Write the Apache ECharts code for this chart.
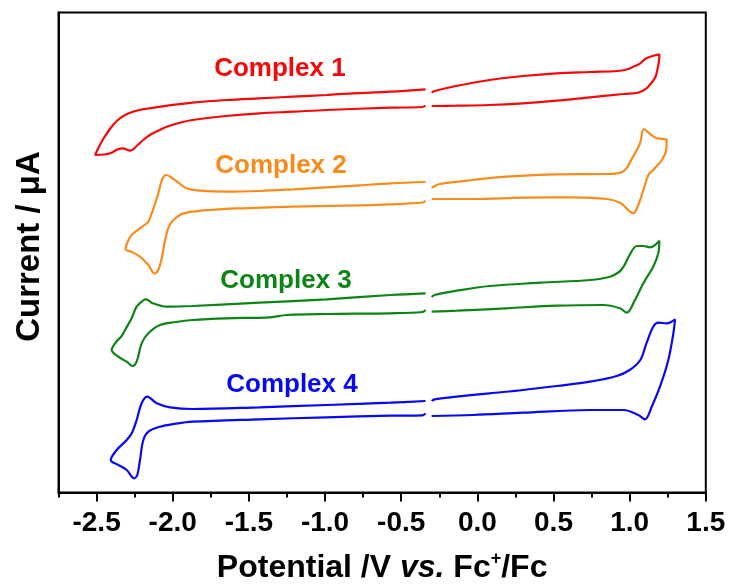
<!DOCTYPE html>
<html>
<head>
<meta charset="utf-8">
<script src="https://cdn.jsdelivr.net/npm/echarts@6/dist/echarts.min.js"></script>
<style>
  html, body { margin: 0; padding: 0; background: #ffffff; }
  #chart { width: 732px; height: 584px; }
</style>
</head>
<body>
<div id="chart"></div>
<script>
// Cyclic voltammograms of complexes 1-4 (potential in V vs. Fc+/Fc, current offset per trace)
const tickValues = [-2.5, -2.0, -1.5, -1.0, -0.5, 0.0, 0.5, 1.0, 1.5];
const minorTickValues = [-2.75, -2.25, -1.75, -1.25, -0.75, -0.25, 0.25, 0.75, 1.25];
const complexNames = ['Complex 1', 'Complex 2', 'Complex 3', 'Complex 4'];

// Each trace was recorded in two windows: negative side (left) and positive side (right)
const c1Left = [
  [-0.34, 40.32], [-0.57, 40.08], [-0.82, 39.92], [-0.99, 39.75], [-1.21, 39.58], [-1.43, 39.42],
  [-1.65, 39.25], [-1.87, 38.98], [-2.08, 38.58], [-2.22, 38.25], [-2.30, 37.85], [-2.36, 37.25],
  [-2.41, 36.40], [-2.46, 35.25], [-2.49, 34.40], [-2.51, 33.75], [-2.45, 33.80], [-2.41, 33.92],
  [-2.36, 34.32], [-2.33, 34.42], [-2.28, 34.18], [-2.23, 34.75], [-2.19, 35.30], [-2.15, 35.75],
  [-2.10, 36.15], [-2.04, 36.58], [-1.96, 36.95], [-1.87, 37.25], [-1.65, 37.65], [-1.43, 37.92],
  [-1.21, 38.08], [-0.99, 38.25], [-0.57, 38.48], [-0.36, 38.55], [-0.34, 38.68]
];
const c1Right = [
  [-0.30, 40.00], [-0.28, 40.15], [-0.14, 40.65], [0.08, 41.25], [0.30, 41.65], [0.52, 41.92],
  [0.74, 42.05], [0.92, 42.15], [0.98, 42.30], [1.03, 42.62], [1.07, 42.92], [1.11, 43.42],
  [1.195, 43.82], [1.193, 43.20], [1.185, 42.50], [1.17, 41.58], [1.14, 40.90], [1.11, 40.42],
  [1.06, 40.00], [0.96, 39.85], [0.74, 39.52], [0.52, 39.18], [0.30, 38.92], [0.08, 38.75],
  [-0.14, 38.68], [-0.30, 38.65]
];
const c2Left = [
  [-0.34, 31.05], [-0.57, 30.92], [-0.77, 30.72], [-0.99, 30.52], [-1.21, 30.32], [-1.43, 30.15],
  [-1.65, 30.08], [-1.82, 30.18], [-1.91, 30.42], [-1.97, 31.08], [-2.01, 31.50], [-2.04, 31.75],
  [-2.06, 31.58], [-2.08, 30.80], [-2.095, 29.92], [-2.13, 28.25], [-2.16, 27.08], [-2.19, 26.70],
  [-2.215, 26.42], [-2.27, 25.75], [-2.30, 24.92], [-2.31, 24.32], [-2.27, 24.08], [-2.215, 23.58],
  [-2.16, 22.75], [-2.12, 21.92], [-2.095, 22.25], [-2.07, 23.58], [-2.05, 25.25], [-2.02, 26.75],
  [-1.97, 27.58], [-1.91, 27.98], [-1.76, 28.25], [-1.54, 28.42], [-1.21, 28.58], [-0.88, 28.68],
  [-0.57, 28.82], [-0.36, 29.00], [-0.34, 29.18]
];
const c2Right = [
  [-0.30, 30.45], [-0.28, 30.65], [-0.245, 30.85], [-0.03, 31.25], [0.19, 31.58], [0.52, 31.82],
  [0.85, 31.85], [0.94, 31.98], [0.98, 32.42], [1.01, 33.25], [1.047, 34.25], [1.068, 34.92],
  [1.094, 36.35], [1.134, 35.85], [1.178, 35.42], [1.243, 35.25], [1.24, 34.25], [1.211, 33.25],
  [1.155, 32.25], [1.123, 31.75], [1.09, 30.25], [1.057, 28.75], [1.024, 27.92], [0.991, 28.25],
  [0.937, 28.98], [0.85, 29.35], [0.63, 29.52], [0.30, 29.48], [-0.03, 29.35], [-0.30, 29.35]
];
const c3Left = [
  [-0.34, 19.92], [-0.57, 19.75], [-0.99, 19.32], [-1.43, 18.98], [-1.87, 18.65], [-2.04, 18.58],
  [-2.13, 18.92], [-2.175, 19.32], [-2.195, 19.20], [-2.237, 18.58], [-2.269, 17.45], [-2.313, 16.25],
  [-2.335, 15.65], [-2.372, 15.05], [-2.401, 14.25], [-2.357, 13.58], [-2.302, 13.08], [-2.263, 12.65],
  [-2.237, 13.08], [-2.204, 14.92], [-2.16, 15.92], [-2.084, 16.75], [-1.98, 17.05], [-1.87, 17.25],
  [-1.65, 17.42], [-1.361, 17.52], [-1.252, 17.75], [-0.99, 17.85], [-0.57, 17.92], [-0.36, 18.05],
  [-0.34, 18.25]
];
const c3Right = [
  [-0.30, 19.55], [-0.28, 19.75], [-0.135, 20.18], [0.08, 20.65], [0.412, 20.98], [0.74, 21.25],
  [0.871, 21.58], [0.93, 22.05], [0.96, 22.58], [1.00, 23.75], [1.047, 24.65], [1.09, 24.65],
  [1.134, 24.52], [1.195, 25.18], [1.188, 23.92], [1.155, 22.58], [1.09, 20.92], [1.035, 19.25],
  [0.981, 17.98], [0.937, 18.42], [0.827, 18.75], [0.52, 18.68], [0.19, 18.42], [-0.135, 18.18],
  [-0.30, 18.08]
];
const c4Left = [
  [-0.34, 9.15], [-0.57, 8.98], [-0.99, 8.75], [-1.43, 8.52], [-1.87, 8.35], [-2.018, 8.52],
  [-2.105, 8.92], [-2.167, 9.58], [-2.204, 8.92], [-2.237, 7.25], [-2.269, 5.92], [-2.302, 5.25],
  [-2.368, 4.25], [-2.407, 3.25], [-2.357, 2.75], [-2.302, 2.25], [-2.254, 1.42], [-2.233, 1.75],
  [-2.215, 3.25], [-2.193, 5.25], [-2.16, 6.08], [-2.084, 6.58], [-1.98, 6.88], [-1.87, 7.08],
  [-1.43, 7.32], [-0.99, 7.52], [-0.57, 7.68], [-0.36, 7.72], [-0.34, 7.90]
];
const c4Right = [
  [-0.30, 9.15], [-0.28, 9.32], [-0.135, 9.58], [0.08, 9.92], [0.30, 10.25], [0.52, 10.65],
  [0.74, 11.08], [0.915, 11.65], [1.00, 12.25], [1.07, 13.25], [1.11, 14.92], [1.155, 16.58],
  [1.188, 16.98], [1.243, 16.92], [1.298, 17.32], [1.287, 15.92], [1.254, 13.25], [1.199, 10.58],
  [1.145, 8.58], [1.101, 7.32], [1.057, 7.75], [0.96, 8.25], [0.74, 8.25], [0.30, 7.98],
  [-0.03, 7.75], [-0.30, 7.65]
];

const traces = [
  { left: c1Left, right: c1Right, color: '#f50808', anchor: [-1.296, 42.35] },
  { left: c2Left, right: c2Right, color: '#f78c1c', anchor: [-1.289, 32.65] },
  { left: c3Left, right: c3Right, color: '#0e8416', anchor: [-1.256, 21.15] },
  { left: c4Left, right: c4Right, color: '#0808f2', anchor: [-1.217, 10.80] }
];

const FONT = '"Liberation Sans", Arial, sans-serif';
const series = [];
traces.forEach(function (t, i) {
  [t.left, t.right].forEach(function (piece) {
    series.push({
      type: 'line',
      data: piece,
      smooth: 0.35,
      symbol: 'none',
      lineStyle: { color: t.color, width: 2.2 },
      silent: true,
      animation: false
    });
  });
  series.push({
    type: 'scatter',
    data: [t.anchor],
    symbolSize: 0,
    silent: true,
    animation: false,
    itemStyle: { opacity: 1, color: t.color },
    label: {
      show: true,
      position: 'inside',
      formatter: complexNames[i],
      color: t.color,
      opacity: 1,
      fontFamily: FONT,
      fontWeight: 'bold',
      fontSize: 26
    }
  });
});

const chart = echarts.init(document.getElementById('chart'), null, { renderer: 'canvas' });
chart.setOption({
  backgroundColor: '#ffffff',
  animation: false,
  grid: {
    left: 58.5, right: 26.2, top: 12.5, bottom: 91.5,
    containLabel: false,
    outerBoundsMode: 'none',
    show: true, borderColor: '#000000', borderWidth: 2, backgroundColor: 'transparent'
  },
  xAxis: [{
    type: 'value',
    min: -2.75, max: 1.5,
    position: 'bottom',
    axisLine: { show: true, onZero: false, lineStyle: { color: '#000', width: 2 } },
    axisTick: { show: true, inside: false, length: 9, customValues: tickValues, lineStyle: { color: '#000', width: 2 } },
    axisLabel: {
      show: true, customValues: tickValues, margin: 17,
      formatter: function (v) { return v.toFixed(1); },
      color: '#000', fontFamily: FONT, fontWeight: 'bold', fontSize: 28
    },
    splitLine: { show: false },
    name: '{b|Potential /V }{i|vs.}{b| Fc}{s|+}{b|/Fc}',
    nameLocation: 'middle',
    nameGap: 58,
    nameTextStyle: {
      rich: {
        b: { fontFamily: FONT, fontWeight: 'bold', fontSize: 32, color: '#000', lineHeight: 36 },
        i: { fontFamily: FONT, fontWeight: 'bold', fontStyle: 'italic', fontSize: 32, color: '#000', lineHeight: 36 },
        s: { fontFamily: FONT, fontWeight: 'bold', fontSize: 18, color: '#000', verticalAlign: 'top', lineHeight: 22 }
      }
    }
  }, {
    type: 'value',
    min: -2.75, max: 1.5,
    position: 'bottom',
    axisLine: { show: false, onZero: false },
    axisTick: { show: true, inside: false, length: 5, customValues: minorTickValues, lineStyle: { color: '#000', width: 2 } },
    axisLabel: { show: false },
    splitLine: { show: false }
  }],
  yAxis: {
    type: 'value',
    min: 0, max: 48,
    axisLine: { show: true, onZero: false, lineStyle: { color: '#000', width: 2 } },
    axisTick: { show: false },
    axisLabel: { show: false },
    splitLine: { show: false },
    name: 'Current / \u03BCA',
    nameLocation: 'middle',
    nameGap: 12,
    nameTextStyle: { fontFamily: FONT, fontWeight: 'bold', fontSize: 33, color: '#000', padding: [0, 0, 0, 12] }
  },
  series: series
});
</script>
</body>
</html>
